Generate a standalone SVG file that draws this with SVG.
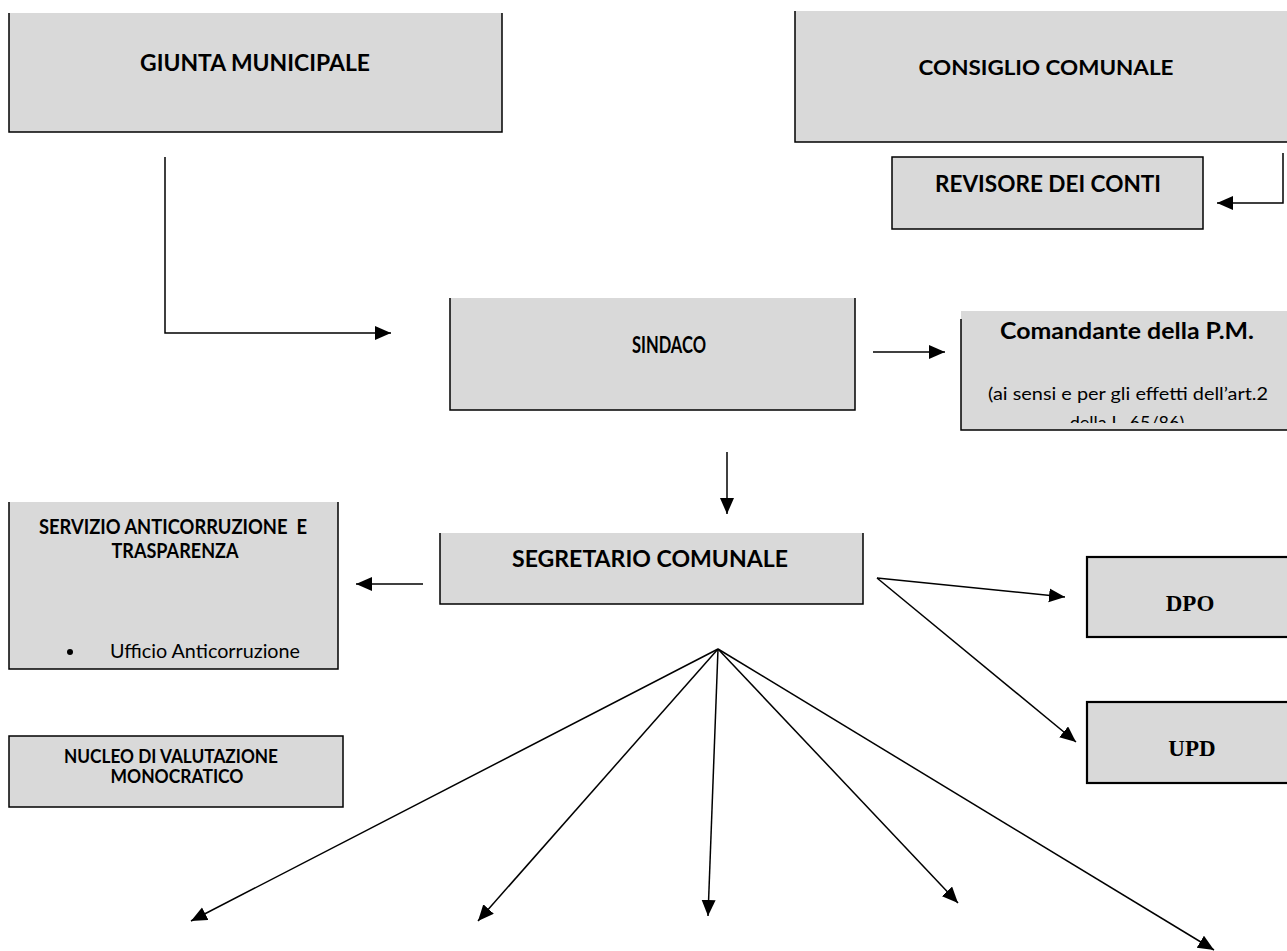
<svg xmlns="http://www.w3.org/2000/svg" width="1287" height="951" viewBox="0 0 1287 951">
<style>
.fill{fill:#d9d9d9;stroke:none}
.bd{fill:none;stroke:#000;stroke-width:1.5}
.bdf{fill:#d9d9d9;stroke:#000;stroke-width:1.5}
.bdt{fill:#d9d9d9;stroke:#000;stroke-width:2.2}
.b{font-family:Lato,"Open Sans","Liberation Sans",sans-serif;font-weight:bold;fill:#000;text-anchor:middle}
.r{font-family:Lato,"Open Sans","Liberation Sans",sans-serif;font-weight:normal;fill:#000}
.t{font-family:"Liberation Serif","Times New Roman",serif;font-weight:bold;fill:#000;text-anchor:middle}
.ln{fill:none;stroke:#000;stroke-width:1.5}
</style>
<defs>
<marker id="ah" markerUnits="userSpaceOnUse" markerWidth="17" markerHeight="15" refX="16" refY="7" orient="auto">
<path d="M0,0 L16,7 L0,14 Z" fill="#000"/>
</marker>
<clipPath id="cmclip"><rect x="961" y="311" width="326" height="112"/></clipPath>
</defs>
<rect width="1287" height="951" fill="#fff"/>

<g id="giunta">
<rect class="fill" x="9" y="13" width="493" height="119"/>
<path class="bd" d="M9,13 V132 H502 V13"/>
<text class="b" x="255" y="71" font-size="22" textLength="230" lengthAdjust="spacingAndGlyphs">GIUNTA MUNICIPALE</text>
</g>

<g id="consiglio">
<rect class="fill" x="795" y="11" width="492" height="131"/>
<path class="bd" d="M795,11 V142 H1287"/>
<text class="b" x="1046" y="75" font-size="21" textLength="255" lengthAdjust="spacingAndGlyphs">CONSIGLIO COMUNALE</text>
</g>

<g id="revisore">
<rect class="bdf" x="892" y="157" width="311" height="72"/>
<text class="b" x="1048" y="192" font-size="22" textLength="226" lengthAdjust="spacingAndGlyphs">REVISORE DEI CONTI</text>
</g>

<g id="sindaco">
<rect class="fill" x="450" y="298" width="405" height="112"/>
<path class="bd" d="M450,298 V410 H855 V298"/>
<text class="b" x="669" y="353" font-size="23" textLength="74" lengthAdjust="spacingAndGlyphs">SINDACO</text>
</g>

<g id="comandante">
<rect class="fill" x="961" y="311" width="326" height="119"/>
<path class="bd" d="M961,319 V430 H1287"/>
<text class="b" x="1127" y="339" font-size="22" textLength="254" lengthAdjust="spacingAndGlyphs">Comandante della P.M.</text>
<text class="r" x="1128" y="400" font-size="18" text-anchor="middle" textLength="280" lengthAdjust="spacingAndGlyphs">(ai sensi e per gli effetti dell’art.2</text>
<text class="r" x="1127" y="429" font-size="18" text-anchor="middle" clip-path="url(#cmclip)">della L. 65/86)</text>
</g>

<g id="segretario">
<rect class="fill" x="440" y="533" width="423" height="71"/>
<path class="bd" d="M440,533 V604 H863 V533"/>
<text class="b" x="650" y="567" font-size="22" textLength="276" lengthAdjust="spacingAndGlyphs">SEGRETARIO COMUNALE</text>
</g>

<g id="servizio">
<rect class="fill" x="9" y="502" width="329" height="167"/>
<path class="bd" d="M9,502 V669 H338 V502"/>
<text class="b" x="173" y="534" font-size="20" textLength="268" lengthAdjust="spacingAndGlyphs" style="white-space:pre">SERVIZIO ANTICORRUZIONE  E</text>
<text class="b" x="175" y="558" font-size="20" textLength="127" lengthAdjust="spacingAndGlyphs">TRASPARENZA</text>
<circle cx="70" cy="652" r="3" fill="#000"/>
<text class="r" x="110" y="658" font-size="19" textLength="190" lengthAdjust="spacingAndGlyphs">Ufficio Anticorruzione</text>
</g>

<g id="nucleo">
<rect class="bdf" x="9" y="736" width="334" height="71"/>
<text class="b" x="171" y="763" font-size="18" textLength="214" lengthAdjust="spacingAndGlyphs">NUCLEO DI VALUTAZIONE</text>
<text class="b" x="177" y="783" font-size="18" textLength="133" lengthAdjust="spacingAndGlyphs">MONOCRATICO</text>
</g>

<g id="dpo">
<rect class="bdt" x="1087" y="557" width="210" height="80"/>
<text class="t" x="1190" y="611" font-size="23">DPO</text>
</g>

<g id="upd">
<rect class="bdt" x="1087" y="702" width="210" height="81"/>
<text class="t" x="1192" y="756" font-size="23">UPD</text>
</g>

<g id="connectors">
<path class="ln" d="M165,157 V333 H391" marker-end="url(#ah)"/>
<path class="ln" d="M1283,153 V203 H1217" marker-end="url(#ah)"/>
<path class="ln" d="M873,352 H945" marker-end="url(#ah)"/>
<path class="ln" d="M727,452 V514" marker-end="url(#ah)"/>
<path class="ln" d="M423,584 H356" marker-end="url(#ah)"/>
<path class="ln" d="M877,578 L1065,597" marker-end="url(#ah)"/>
<path class="ln" d="M877,578 L1076,742" marker-end="url(#ah)"/>
<path class="ln" d="M718,649 L191,921" marker-end="url(#ah)"/>
<path class="ln" d="M718,649 L478,921" marker-end="url(#ah)"/>
<path class="ln" d="M718,649 L708,916" marker-end="url(#ah)"/>
<path class="ln" d="M718,649 L958,903" marker-end="url(#ah)"/>
<path class="ln" d="M718,649 L1214,950" marker-end="url(#ah)"/>
</g>
</svg>
